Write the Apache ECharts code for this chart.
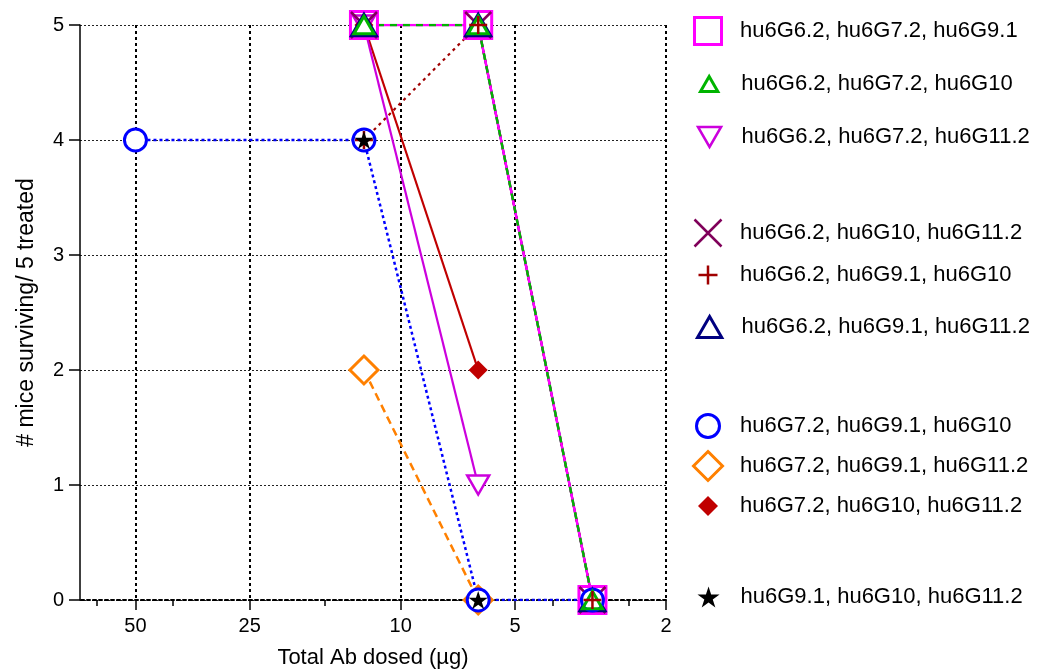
<!DOCTYPE html>
<html>
<head>
<meta charset="utf-8">
<script src="https://cdn.jsdelivr.net/npm/echarts@6/dist/echarts.min.js"></script>
<style>html,body{margin:0;padding:0;background:#fff}#c{width:1052px;height:671px}</style>
</head>
<body>
<div id="c"></div>
<script>
// ---------- data ----------
const doses = [50, 12.5, 6.25, 3.125];               // total Ab dosed (µg)
const xTickValues = [50, 25, 10, 5, 2];
const xTickLabels = ['50', '25', '10', '5', '2'];
const xMinorTickValues = [63.1, 39.8, 15.85, 6.31, 3.98, 2.51];
const xAxisRange = [2, 70];
const yTickValues = [0, 1, 2, 3, 4, 5];

const seriesNames = [
  'hu6G6.2, hu6G7.2, hu6G9.1',
  'hu6G6.2, hu6G7.2, hu6G10',
  'hu6G6.2, hu6G7.2, hu6G11.2',
  'hu6G6.2, hu6G10, hu6G11.2',
  'hu6G6.2, hu6G9.1, hu6G10',
  'hu6G6.2, hu6G9.1, hu6G11.2',
  'hu6G7.2, hu6G9.1, hu6G10',
  'hu6G7.2, hu6G9.1, hu6G11.2',
  'hu6G7.2, hu6G10, hu6G11.2',
  'hu6G9.1, hu6G10, hu6G11.2'
];
// survivors out of 5, aligned with doses (null = not tested)
const surv_62_72_91  = [null, 5, 5, 0];
const surv_62_72_10  = [null, 5, 5, 0];
const surv_62_72_112 = [null, 5, 1, null];
const surv_62_10_112 = [null, 5, 5, 0];
const surv_62_91_10  = [null, 4, 5, 0];
const surv_62_91_112 = [null, 5, 5, 0];
const surv_72_91_10  = [4, 4, 0, 0];
const surv_72_91_112 = [null, 2, 0, null];
const surv_72_10_112 = [null, 5, 2, null];
const surv_91_10_112 = [null, 4, 0, null];

// ---------- styling ----------
const FONT = '"Liberation Sans", Arial, sans-serif';
const SQ = 'path://M0,0L10,0L10,10L0,10Z';
const TRI = 'path://M5,0L10,8.66L0,8.66Z';
const ITRI = 'path://M0,0L10,0L5,8.66Z';
const XS = 'path://M0,0L10,10M10,0L0,10';
const PLUS = 'path://M5,0L5,10M0,5L10,5';
const CIRC = 'path://M0,5A5,5,0,1,0,10,5A5,5,0,1,0,0,5Z';
const DIA = 'path://M5,0L10,5L5,10L0,5Z';
const STAR = 'path://M50,0L61.23,34.55L97.55,34.55L68.17,55.9L79.39,90.45L50,69.1L20.61,90.45L31.83,55.9L2.45,34.55L38.77,34.55Z';

const defs = {};
defs[seriesNames[0]] = {vals: surv_62_72_91,  sym: SQ,   size: 27, color: '#ff00ff', fill: '#ffffff',     bw: 3,   line: {color: '#ff00ff', type: 'solid', width: 2.5}, lg: {y: 31,  h: 27}};
defs[seriesNames[1]] = {vals: surv_62_72_10,  sym: TRI,  size: 20, color: '#00b400', fill: 'transparent', bw: 3,   line: {color: '#00b400', type: [7, 6], width: 2.5}, lg: {y: 84,  h: 15}};
defs[seriesNames[2]] = {vals: surv_62_72_112, sym: ITRI, size: 22, color: '#cc00dd', fill: '#ffffff',     bw: 2.5, line: {color: '#cc00dd', type: 'solid', width: 2.2}, lg: {y: 137, h: 20}};
defs[seriesNames[3]] = {vals: surv_62_10_112, sym: XS,   size: 26, color: '#80005a', fill: 'transparent', bw: 2.5, line: {color: '#80005a', type: 'solid', width: 2}, lg: {y: 233, h: 27}};
defs[seriesNames[4]] = {vals: surv_62_91_10,  sym: PLUS, size: 18, color: '#a00000', fill: 'transparent', bw: 2.5, line: {color: '#a00000', type: [3, 4], width: 2.2}, lg: {y: 275, h: 19}};
defs[seriesNames[5]] = {vals: surv_62_91_112, sym: TRI,  size: 25, color: '#000080', fill: '#ffffff',     bw: 3,   line: {color: '#000080', type: 'solid', width: 2}, lg: {y: 327, h: 21}};
defs[seriesNames[6]] = {vals: surv_72_91_10,  sym: CIRC, size: 22, color: '#0000ff', fill: '#ffffff',     bw: 3,   line: {color: '#0000ff', type: [3, 3], width: 2.5}, lg: {y: 426, h: 23}};
defs[seriesNames[7]] = {vals: surv_72_91_112, sym: DIA,  size: 28, color: '#ff8000', fill: '#ffffff',     bw: 3,   line: {color: '#ff8000', type: [8, 5], width: 2.5}, lg: {y: 466, h: 29}};
defs[seriesNames[8]] = {vals: surv_72_10_112, sym: DIA,  size: 19, color: '#c00000', fill: '#c00000',     bw: 0,   line: {color: '#c00000', type: 'solid', width: 2.2}, lg: {y: 506, h: 20}};
defs[seriesNames[9]] = {vals: surv_91_10_112, sym: STAR, size: 19, color: '#000000', fill: '#000000',     bw: 0,   line: null, lg: {y: 597, h: 21}};

const lineOrder = [3, 5, 4, 6, 7, 8, 2, 0, 1];
const markerOrder = [0, 2, 8, 3, 5, 7, 6, 1, 4, 9];

function pts(vals) {
  const out = [];
  doses.forEach((d, i) => { if (vals[i] !== null) out.push([Math.log10(d), vals[i]]); });
  return out;
}

const series = [];
lineOrder.forEach(i => {
  const d = defs[seriesNames[i]];
  if (!d.line) return;
  series.push({
    type: 'line', name: seriesNames[i] + ' (line)', data: pts(d.vals),
    symbol: 'none', showSymbol: false, silent: true, z: 2, animation: false,
    lineStyle: {color: d.line.color, type: d.line.type, width: d.line.width, cap: 'butt'},
    emphasis: {disabled: true}
  });
});
markerOrder.forEach(i => {
  const d = defs[seriesNames[i]];
  series.push({
    type: 'scatter', name: seriesNames[i], data: pts(d.vals),
    symbol: d.sym, symbolSize: d.size, symbolKeepAspect: true, z: 3, silent: true,
    itemStyle: {color: d.fill, borderColor: d.color, borderWidth: d.bw, opacity: 1},
    emphasis: {disabled: true}
  });
});

const LEGEND_ICON_CX = 708;
const LEGEND_FS = 22;
const legends = seriesNames.map(n => {
  const d = defs[n];
  return {
    data: [{name: n, itemStyle: {borderWidth: d.bw, borderColor: d.color, color: d.fill}}],
    left: LEGEND_ICON_CX - d.lg.h / 2 - d.bw / 2,
    top: d.lg.y - Math.max(d.lg.h + d.bw, LEGEND_FS) / 2,
    padding: 0, itemWidth: 54, itemHeight: d.lg.h,
    selectedMode: false, symbolKeepAspect: true,
    textStyle: {fontSize: LEGEND_FS, fontFamily: FONT, color: '#000'}
  };
});

const xLog = xTickValues.map(v => Math.log10(v));
const xMinorLog = xMinorTickValues.map(v => Math.log10(v));
const xMin = Math.log10(xAxisRange[0]);
const xMax = Math.log10(xAxisRange[1]);

const chart = echarts.init(document.getElementById('c'), null, {renderer: 'canvas'});
chart.setOption({
  animation: false,
  backgroundColor: '#fff',
  grid: {left: 80, right: 386, top: 25, bottom: 71, containLabel: false, outerBoundsMode: 'none'},
  legend: legends,
  xAxis: [
    {
      type: 'value', inverse: true, min: xMin, max: xMax, position: 'bottom',
      name: 'Total Ab dosed (µg)', nameLocation: 'middle', nameGap: 47,
      nameTextStyle: {fontSize: 22, fontFamily: FONT, color: '#000'},
      axisLine: {show: true, onZero: false, lineStyle: {color: '#000', width: 2, type: [3, 3]}},
      axisTick: {show: true, customValues: xLog, length: 10, lineStyle: {color: '#000', width: 1.5}},
      axisLabel: {
        show: true, customValues: xLog, margin: 16, fontSize: 20, fontFamily: FONT, color: '#000',
        formatter: v => {
          const i = xLog.findIndex(t => Math.abs(t - v) < 1e-9);
          return i >= 0 ? xTickLabels[i] : '';
        }
      },
      splitLine: {show: true, lineStyle: {color: '#000', width: 2, type: [3, 3]}}
    },
    {
      type: 'value', inverse: true, min: xMin, max: xMax, position: 'bottom',
      axisLine: {show: false},
      axisTick: {show: true, customValues: xMinorLog, length: 6, lineStyle: {color: '#000', width: 1.5}},
      axisLabel: {show: false},
      splitLine: {show: false}
    }
  ],
  yAxis: {
    type: 'value', min: yTickValues[0], max: yTickValues[yTickValues.length - 1], interval: 1,
    name: '# mice surviving/ 5 treated', nameLocation: 'middle', nameGap: 42,
    nameTextStyle: {fontSize: 23, fontFamily: FONT, color: '#000'},
    axisLine: {show: true, onZero: false, lineStyle: {color: '#000', width: 1.5}},
    axisTick: {show: true, length: 11, lineStyle: {color: '#000', width: 1.5}},
    axisLabel: {margin: 16, fontSize: 20, fontFamily: FONT, color: '#000'},
    splitLine: {show: true, lineStyle: {color: '#222', width: 1, type: [2, 2]}}
  },
  series: series
});
</script>
</body>
</html>
